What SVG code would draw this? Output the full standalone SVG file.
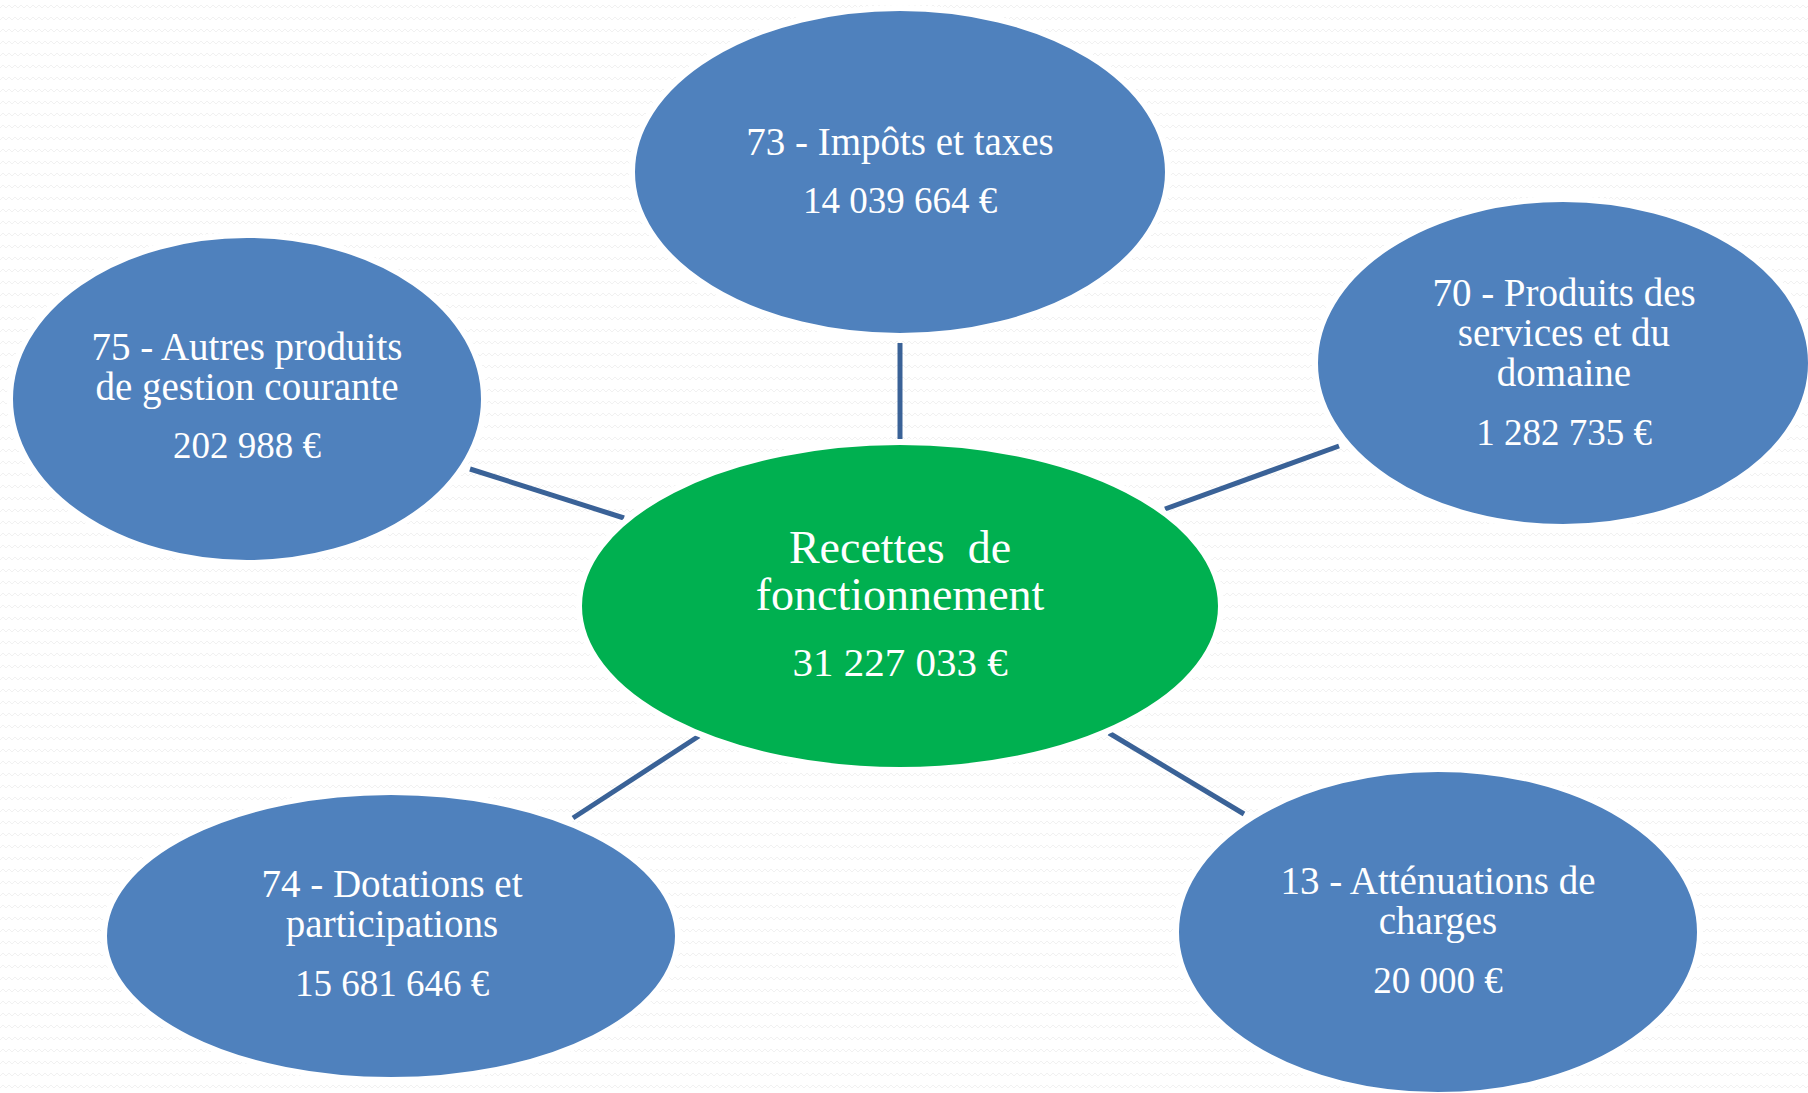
<svg xmlns="http://www.w3.org/2000/svg" width="1808" height="1093" viewBox="0 0 1808 1093">
  <defs>
    <pattern id="zz" width="12" height="12" patternUnits="userSpaceOnUse">
      <path d="M0 8 L3 5 L6 8 L9 5 L12 8" fill="none" stroke="#f1f1f1" stroke-width="1"/>
    </pattern>
  </defs>
  <style>
    .blue { fill: #4f81bd; stroke: #ffffff; stroke-width: 6; }
    .green { fill: #00b050; stroke: #ffffff; stroke-width: 6; }
    .t { font-family: "Liberation Serif", "DejaVu Serif", serif; fill: #ffffff; text-anchor: middle; font-size: 39px; }
    .n { font-size: 37px; }
    .tc { font-size: 46px; }
    .nc { font-size: 41px; }
    .conn line { stroke: #3a6297; stroke-width: 5; }
  </style>
  <rect width="1808" height="1093" fill="#ffffff"/>
  <rect width="1808" height="1093" fill="url(#zz)"/>

  <g id="connectors" class="conn">
    <line x1="900" y1="343" x2="900" y2="439"/>
    <line x1="470" y1="469" x2="624" y2="518"/>
    <line x1="1165" y1="509" x2="1339" y2="446"/>
    <line x1="573" y1="818" x2="699" y2="736"/>
    <line x1="1109" y1="733" x2="1244" y2="814"/>
  </g>

  <g id="node-73">
    <ellipse class="blue" cx="900" cy="172" rx="268" ry="164"/>
    <text class="t" x="900" y="155">73 - Impôts et taxes</text>
    <text class="t n" x="900" y="213">14 039 664 €</text>
  </g>

  <g id="node-75">
    <ellipse class="blue" cx="247" cy="399" rx="237" ry="164"/>
    <text class="t" x="247" y="360">75 - Autres produits</text>
    <text class="t" x="247" y="400">de gestion courante</text>
    <text class="t n" x="247" y="458">202 988 €</text>
  </g>

  <g id="node-70">
    <ellipse class="blue" cx="1563" cy="363" rx="248" ry="164"/>
    <text class="t" x="1564" y="306">70 - Produits des</text>
    <text class="t" x="1564" y="346">services et du</text>
    <text class="t" x="1564" y="386">domaine</text>
    <text class="t n" x="1564" y="445">1 282 735 €</text>
  </g>

  <g id="node-center">
    <ellipse class="green" cx="900" cy="606" rx="321" ry="164"/>
    <text class="t tc" x="900" y="563" xml:space="preserve">Recettes  de</text>
    <text class="t tc" x="900" y="610">fonctionnement</text>
    <text class="t nc" x="900" y="676">31 227 033 €</text>
  </g>

  <g id="node-74">
    <ellipse class="blue" cx="391" cy="936" rx="287" ry="144"/>
    <text class="t" x="392" y="897">74 - Dotations et</text>
    <text class="t" x="392" y="937">participations</text>
    <text class="t n" x="392" y="996">15 681 646 €</text>
  </g>

  <g id="node-13">
    <ellipse class="blue" cx="1438" cy="932" rx="262" ry="163"/>
    <text class="t" x="1438" y="894">13 - Atténuations de</text>
    <text class="t" x="1438" y="934">charges</text>
    <text class="t n" x="1438" y="993">20 000 €</text>
  </g>
</svg>
